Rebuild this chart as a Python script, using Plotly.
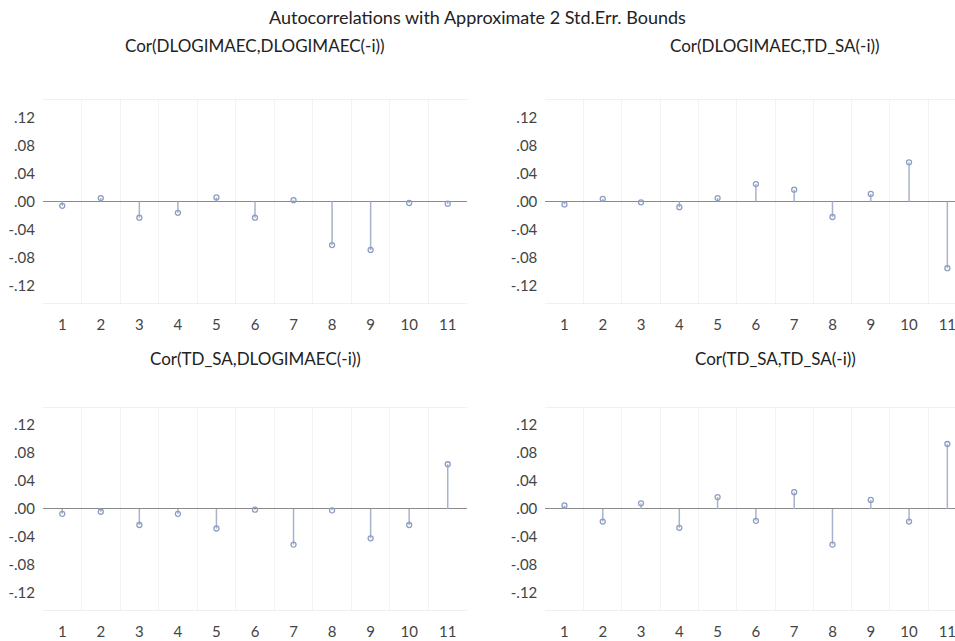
import plotly.graph_objects as go

lags = [1, 2, 3, 4, 5, 6, 7, 8, 9, 10, 11]
lag_labels = ["1", "2", "3", "4", "5", "6", "7", "8", "9", "10", "11"]

cor_dl_dl = [-0.006, 0.005, -0.023, -0.016, 0.006, -0.023, 0.002, -0.062, -0.069, -0.002, -0.003]
cor_dl_td = [-0.004, 0.004, -0.001, -0.008, 0.005, 0.025, 0.017, -0.022, 0.011, 0.056, -0.095]
cor_td_dl = [-0.007, -0.004, -0.023, -0.007, -0.028, -0.001, -0.051, -0.002, -0.042, -0.023, 0.064]
cor_td_td = [0.005, -0.018, 0.008, -0.027, 0.017, -0.017, 0.024, -0.051, 0.013, -0.018, 0.093]

panel_titles = ["Cor(DLOGIMAEC,DLOGIMAEC(-i))", "Cor(DLOGIMAEC,TD_SA(-i))",
                "Cor(TD_SA,DLOGIMAEC(-i))", "Cor(TD_SA,TD_SA(-i))"]
main_title = "Autocorrelations with Approximate 2 Std.Err. Bounds"

y_tickvals = [0.12, 0.08, 0.04, 0.0, -0.04, -0.08, -0.12]
y_ticktext = [".12", ".08", ".04", ".00", "-.04", "-.08", "-.12"]

FONT = "Lato, Open Sans, sans-serif"
STEM = "#a6b3ca"
MARK = "#8c9ec2"

panels = [
    (cor_dl_dl, [0.045, 0.489], [0.527, 0.844], [0.5, 11.5]),
    (cor_dl_td, [0.571, 1.0], [0.527, 0.844], [0.5, 11.2]),
    (cor_td_dl, [0.045, 0.489], [0.048, 0.364], [0.5, 11.5]),
    (cor_td_td, [0.571, 1.0], [0.048, 0.364], [0.5, 11.2]),
]

fig = go.Figure()
layout = {}
for i, (vals, xd, yd, xr) in enumerate(panels):
    n = "" if i == 0 else str(i + 1)
    sx = []
    sy = []
    for k, v in zip(lags, vals):
        sx += [k, k, None]
        sy += [0, v, None]
    fig.add_trace(go.Scatter(x=sx, y=sy, mode="lines",
                             line=dict(color=STEM, width=1.5),
                             xaxis="x" + n, yaxis="y" + n, hoverinfo="skip",
                             showlegend=False))
    fig.add_trace(go.Scatter(x=lags, y=vals, mode="markers",
                             marker=dict(symbol="circle-open", size=5, color=MARK,
                                         line=dict(width=1.3, color=MARK)),
                             xaxis="x" + n, yaxis="y" + n, showlegend=False))
    layout["xaxis" + n] = dict(
        domain=xd, range=xr, anchor="y" + n,
        tickmode="array", tickvals=lags, ticktext=lag_labels,
        ticks="outside", ticklen=8, tickcolor="rgba(0,0,0,0)",
        ticklabeloverflow="allow",
        showgrid=False, zeroline=False,
        minor=dict(tickmode="linear", tick0=0.5, dtick=1, showgrid=True,
                   gridcolor="#f3f3f6", gridwidth=1),
        showline=True, linecolor="#f0f0f0", mirror=True,
        tickfont=dict(family=FONT, size=15, color="#444"),
        fixedrange=True,
    )
    layout["yaxis" + n] = dict(
        domain=yd, range=[-0.145, 0.145], anchor="x" + n,
        tickmode="array", tickvals=y_tickvals, ticktext=y_ticktext,
        ticks="outside", ticklen=4, tickcolor="rgba(0,0,0,0)",
        showgrid=False, zeroline=True, zerolinecolor="#8a8a8a", zerolinewidth=1.2,
        showline=False,
        tickfont=dict(family=FONT, size=15, color="#444"),
        fixedrange=True,
    )

def ann(text, x, y, size):
    return dict(text=text, x=x / 955, y=1 - y / 641, xref="paper", yref="paper",
                xanchor="center", yanchor="middle", showarrow=False,
                font=dict(family=FONT, size=size, color="#222"))

annotations = [
    ann(main_title, 477, 17, 18),
    ann(panel_titles[0], 255, 46, 17),
    ann(panel_titles[1], 775, 46, 17),
    ann(panel_titles[2], 255, 358, 17),
    ann(panel_titles[3], 775, 358, 17),
]

fig.update_layout(
    width=955, height=641,
    margin=dict(l=0, r=0, t=0, b=0),
    paper_bgcolor="white", plot_bgcolor="white",
    annotations=annotations,
    **layout,
)

fig.write_html("out.html", config={"displayModeBar": False},
               post_script="document.body.style.margin='0';document.body.style.overflow='hidden';")
